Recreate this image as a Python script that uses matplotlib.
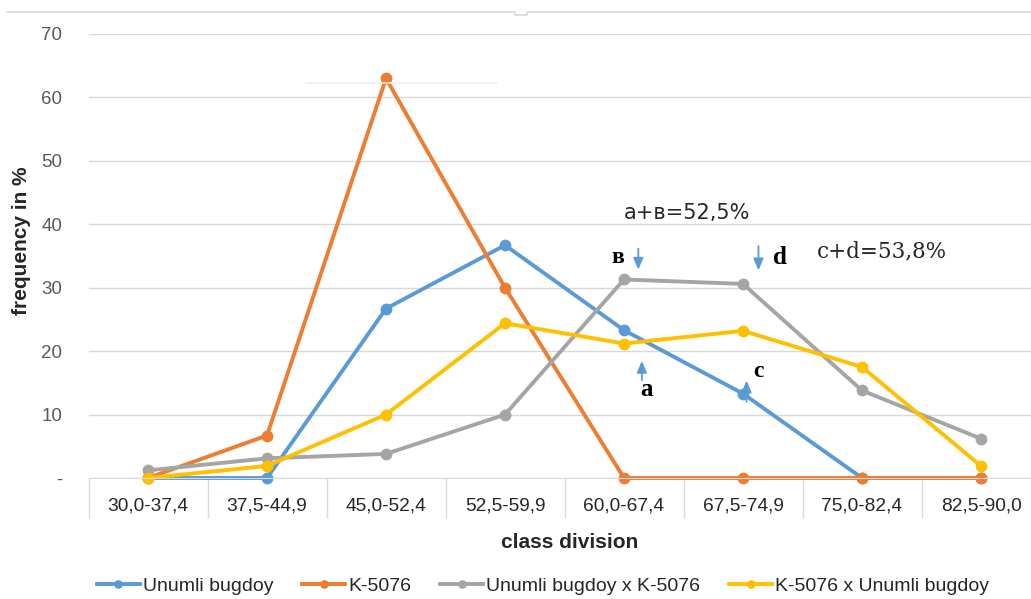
import matplotlib
matplotlib.use("Agg")
import matplotlib.pyplot as plt
from matplotlib.lines import Line2D

plt.rcParams['font.family'] = ['Liberation Sans', 'DejaVu Sans']

classes = ["30,0-37,4", "37,5-44,9", "45,0-52,4", "52,5-59,9",
           "60,0-67,4", "67,5-74,9", "75,0-82,4", "82,5-90,0"]
unumli = [0, 0, 26.7, 36.7, 23.3, 13.3, 0, 0]
k5076 = [0, 6.7, 63.0, 30.0, 0, 0, 0, 0]
unumli_x_k = [1.2, 3.1, 3.8, 10.0, 31.3, 30.6, 13.8, 6.2]
k_x_unumli = [0, 1.9, 10.0, 24.4, 21.2, 23.2, 17.5, 1.9]
series_names = ["Unumli bugdoy", "K-5076", "Unumli bugdoy x K-5076", "K-5076 x Unumli bugdoy"]
colors = ["#5B9BD5", "#ED7D31", "#A5A5A5", "#FFC000"]
yticks = [0, 10, 20, 30, 40, 50, 60, 70]

W, H = 1031, 599
fig = plt.figure(figsize=(W / 100, H / 100), dpi=100)
ax = fig.add_axes([88.5 / W, (H - 478) / H, 952 / W, 444 / H])

x = list(range(len(classes)))
for vals, name, c in zip([unumli, k5076, unumli_x_k, k_x_unumli], series_names, colors):
    ax.plot(x, vals, color=c, lw=2.8, marker='o', markersize=7.5, label=name,
            solid_joinstyle='round', clip_on=False)

ax.set_xlim(-0.5, len(classes) - 0.5)
ax.set_ylim(0, 70)
ax.set_yticks(yticks)
ax.set_yticklabels(["-" if v == 0 else str(v) for v in yticks])
ax.grid(axis='y', color='#D9D9D9', lw=1)
ax.set_axisbelow(True)
for s in ['left', 'right', 'top']:
    ax.spines[s].set_visible(False)
ax.spines['bottom'].set_color('#D9D9D9')
ax.tick_params(axis='y', length=0, pad=19, labelsize=13.5, labelcolor='#595959')

# category separators as major ticks, labels on minor ticks
ax.set_xticks([i - 0.5 for i in range(len(classes) + 1)])
ax.set_xticklabels([])
ax.set_xticks(x, minor=True)
ax.set_xticklabels(classes, minor=True)
ax.tick_params(axis='x', which='major', length=29, width=1, color='#D9D9D9', direction='out')
ax.tick_params(axis='x', which='minor', length=0, pad=14, labelsize=13.8, labelcolor='#262626')

fig.text(570 / W, 1 - 543 / H, "class division", ha='center', va='center',
         fontsize=15, fontweight='bold', color='#262626')
fig.text(22 / W, 1 - 241 / H, "frequency in %", ha='center', va='center', rotation=90,
         fontsize=15, fontweight='bold', color='#262626')

leg = fig.legend(loc='center', bbox_to_anchor=(543 / W, 1 - 586 / H), ncol=4, frameon=False,
                 fontsize=14, handlelength=2.2, handletextpad=0.15, columnspacing=1.5,
                 markerscale=0.7)
for t in leg.get_texts():
    t.set_color('#262626')

# sums of neighbouring frequencies
arrow = dict(arrowstyle='-|>,head_length=0.7,head_width=0.3', color='#5B9BD5', lw=1.3)
ax.annotate("", xy=(4.12, 32.4), xytext=(4.12, 36.6), arrowprops=arrow)
ax.annotate("", xy=(5.13, 32.3), xytext=(5.13, 37.0), arrowprops=arrow)
ax.annotate("", xy=(4.15, 18.9), xytext=(4.15, 15.0), arrowprops=arrow)
ax.annotate("", xy=(5.03, 15.8), xytext=(5.03, 11.6), arrowprops=arrow)

serif = ['Liberation Serif', 'DejaVu Serif']
ax.text(3.95, 34.8, "в", ha='center', va='center', fontsize=17, fontweight='bold', family=serif)
ax.text(5.31, 34.8, "d", ha='center', va='center', fontsize=18, fontweight='bold', family=serif)
ax.text(4.19, 13.9, "a", ha='center', va='center', fontsize=18, fontweight='bold', family=serif)
ax.text(5.13, 16.8, "c", ha='center', va='center', fontsize=17, fontweight='bold', family=serif)
ax.text(4.53, 41.8, "a+в=52,5%", ha='center', va='center', fontsize=15,
        family=['DejaVu Sans'], color='#262626')
ax.text(6.17, 35.7, "c+d=53,8%", ha='center', va='center', fontsize=15.5,
        family=['DejaVu Serif'], color='#262626')

# outer chart frame at the top
def px_line(xs, ys, color, lw=1.2):
    fig.add_artist(Line2D([v / W for v in xs], [1 - v / H for v in ys],
                          transform=fig.transFigure, color=color, lw=lw))

px_line([7, 515, 515, 527, 527, W], [12, 12, 15, 15, 12, 12], '#D9D9D9')
px_line([307, 497], [83, 83], '#EEEEEE')

fig.savefig("out.png", dpi=100, facecolor='white')
